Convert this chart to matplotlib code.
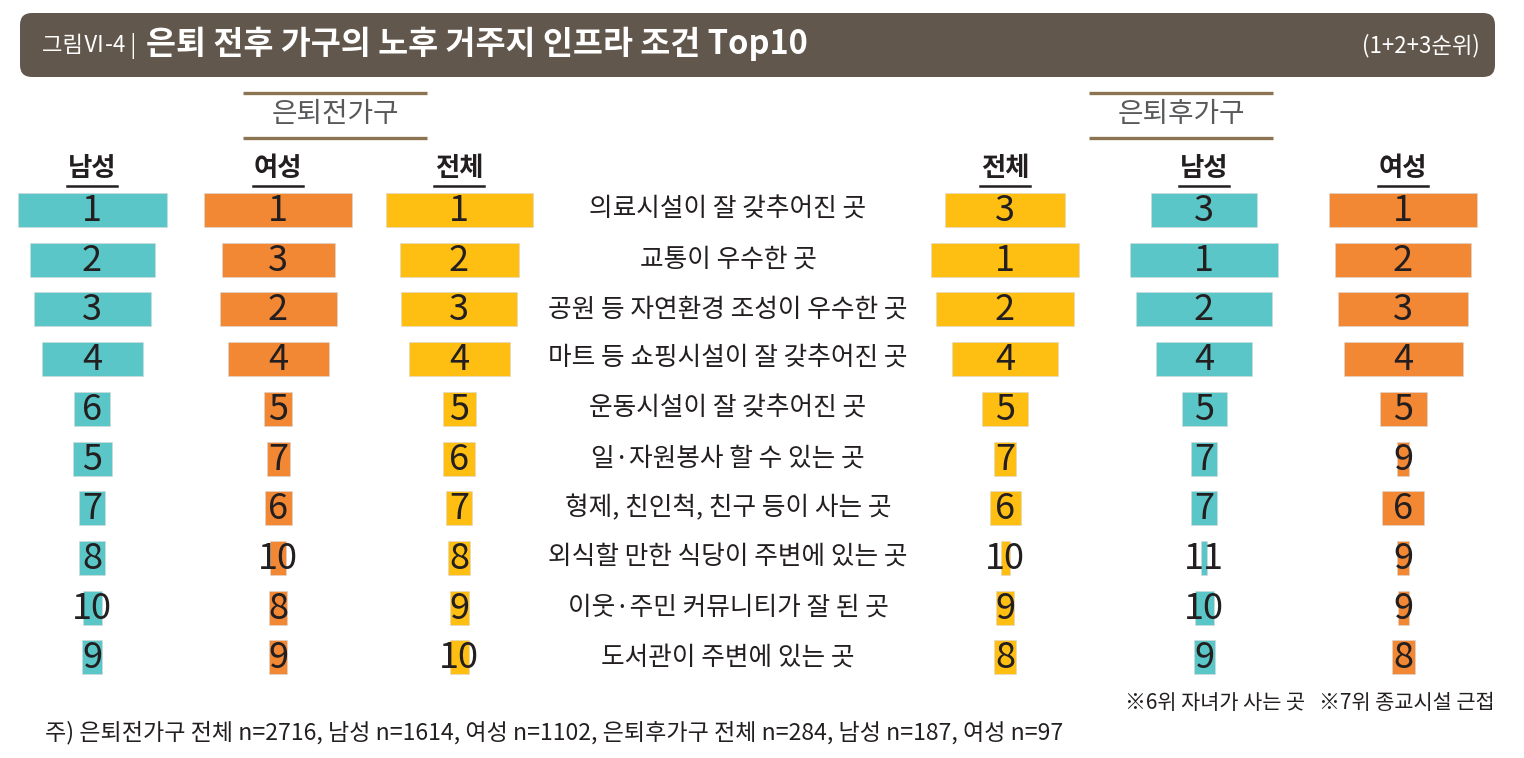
import matplotlib.pyplot as plt
from matplotlib.patches import FancyBboxPatch

plt.rcParams['font.family'] = ['Noto Sans CJK KR', 'DejaVu Sans']

categories = [
    "의료시설이 잘 갖추어진 곳",
    "교통이 우수한 곳",
    "공원 등 자연환경 조성이 우수한 곳",
    "마트 등 쇼핑시설이 잘 갖추어진 곳",
    "운동시설이 잘 갖추어진 곳",
    "일·자원봉사 할 수 있는 곳",
    "형제, 친인척, 친구 등이 사는 곳",
    "외식할 만한 식당이 주변에 있는 곳",
    "이웃·주민 커뮤니티가 잘 된 곳",
    "도서관이 주변에 있는 곳",
]

column_names = ["남성", "여성", "전체", "전체", "남성", "여성"]

# rank shown in each cell
before_male_rank = [1, 2, 3, 4, 6, 5, 7, 8, 10, 9]
before_female_rank = [1, 3, 2, 4, 5, 7, 6, 10, 8, 9]
before_total_rank = [1, 2, 3, 4, 5, 6, 7, 8, 9, 10]
after_total_rank = [3, 1, 2, 4, 5, 7, 6, 10, 9, 8]
after_male_rank = [3, 1, 2, 4, 5, 7, 7, 11, 10, 9]
after_female_rank = [1, 2, 3, 4, 5, 9, 6, 9, 9, 8]

# bar length (relative share)
before_male = [149, 125, 117, 101, 36, 39, 26, 26, 19, 20]
before_female = [148, 113, 117, 101, 28, 23, 27, 16, 18, 18]
before_total = [147, 119, 116, 101, 33, 32, 26, 22, 19, 19]
after_total = [120, 148, 138, 106, 46, 22, 31, 9, 18, 22]
after_male = [106, 148, 136, 96, 45, 26, 26, 6, 19, 21]
after_female = [148, 136, 130, 119, 47, 12, 42, 12, 11, 23]

TEAL = "#5BC6C7"
ORANGE = "#F28734"
YELLOW = "#FFBE12"
TEXT = "#231F20"

columns = [
    (92, before_male, before_male_rank, TEAL),
    (278, before_female, before_female_rank, ORANGE),
    (459, before_total, before_total_rank, YELLOW),
    (1005, after_total, after_total_rank, YELLOW),
    (1204, after_male, after_male_rank, TEAL),
    (1403, after_female, after_female_rank, ORANGE),
]

fig = plt.figure(figsize=(15.24, 7.58), dpi=100)
ax = fig.add_axes([0, 0, 1, 1])
ax.set_xlim(0, 1524)
ax.set_ylim(758, 0)
ax.axis("off")

# title bar
ax.add_patch(FancyBboxPatch((32, 25), 1451, 40, boxstyle="round,pad=12,rounding_size=12",
                            fc="#61574C", ec="none"))
ax.text(42, 46, "그림Ⅵ-4 |", color="white", fontsize=16, va="center", ha="left")
ax.text(146, 44, "은퇴 전후 가구의 노후 거주지 인프라 조건 Top10", color="white",
        fontsize=23.5, fontweight="bold", va="center", ha="left")
ax.text(1480, 46, "(1+2+3순위)", color="white", fontsize=16, va="center", ha="right")

# group headers
for cx, label in [(335, "은퇴전가구"), (1181, "은퇴후가구")]:
    ax.plot([cx - 92, cx + 92], [93, 93], color="#8C7452", lw=2.4, solid_capstyle="butt")
    ax.plot([cx - 92, cx + 92], [138, 138], color="#8C7452", lw=2.4, solid_capstyle="butt")
    ax.text(cx, 114, label, color="#58595B", fontsize=20, ha="center", va="center")

rows = list(range(len(categories)))
row_y = [210 + 49.7 * i for i in rows]

for (cx, widths, ranks, color), name in zip(columns, column_names):
    ax.barh(row_y, widths, left=[cx - w / 2 for w in widths], height=34,
            color=color, edgecolor="#d8d8d8", linewidth=0.4)
    for y, r in zip(row_y, ranks):
        ax.text(cx, y + 1, str(r), color=TEXT, fontsize=26, ha="center", va="center")
    ax.text(cx, 168, name, color=TEXT, fontsize=19, fontweight="bold", ha="center", va="center")
    ax.plot([cx - 25, cx + 25], [186, 186], color=TEXT, lw=1.8)

for y, cat in zip(row_y, categories):
    ax.text(728, y, cat, color=TEXT, fontsize=18.5, ha="center", va="center")

ax.text(1495, 703, "※6위 자녀가 사는 곳   ※7위 종교시설 근접", color=TEXT,
        fontsize=15, ha="right", va="center")
ax.text(45, 733, "주) 은퇴전가구 전체 n=2716, 남성 n=1614, 여성 n=1102, "
        "은퇴후가구 전체 n=284, 남성 n=187, 여성 n=97",
        color=TEXT, fontsize=16.6, ha="left", va="center")

fig.savefig("out.png", dpi=100)
plt.close(fig)
